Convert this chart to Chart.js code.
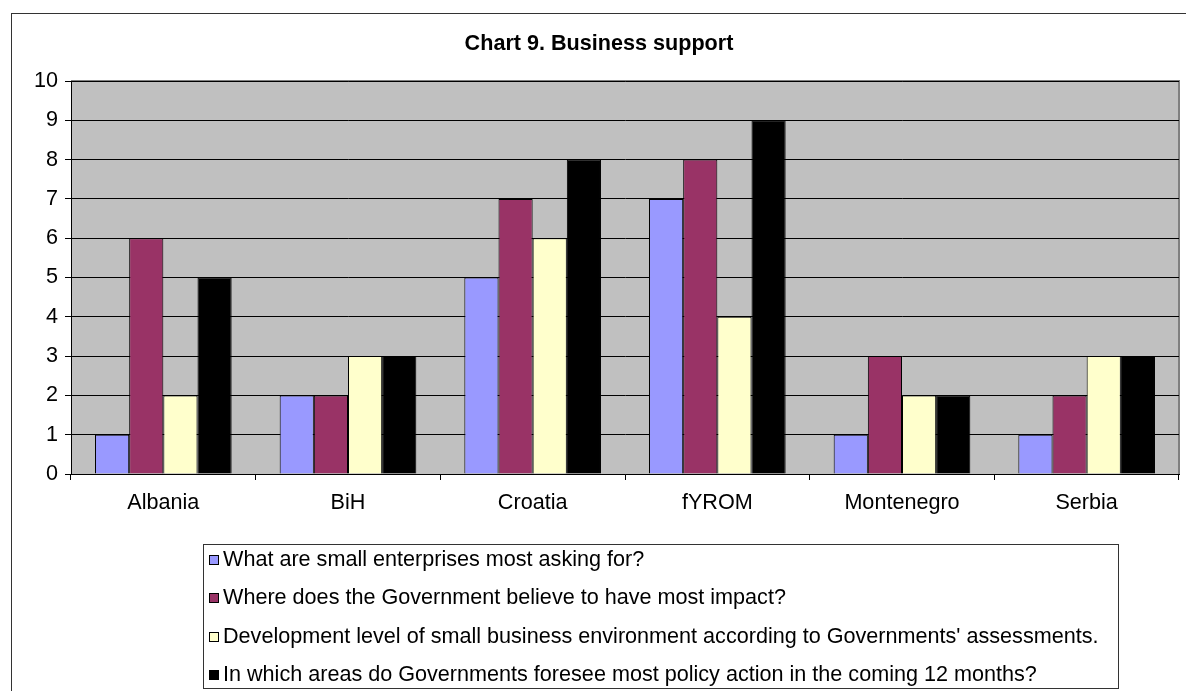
<!DOCTYPE html>
<html>
<head>
<meta charset="utf-8">
<script src="https://cdn.jsdelivr.net/npm/chart.js@4/dist/chart.umd.min.js"></script>
<style>
  html, body { margin: 0; padding: 0; background: #fff; }
  #wrap { width: 1186px; height: 691px; }
</style>
</head>
<body>
<div id="wrap"><canvas id="chart" width="1186" height="691"></canvas></div>
<script>
const countries = ["Albania", "BiH", "Croatia", "fYROM", "Montenegro", "Serbia"];
const askingFor = [1, 2, 5, 7, 1, 1];
const govImpact = [6, 2, 7, 8, 3, 2];
const devLevel = [2, 3, 6, 4, 2, 3];
const policyAction = [5, 3, 8, 9, 2, 3];
const seriesNames = [
  "What are small enterprises most asking for?",
  "Where does the Government believe to have most impact?",
  "Development level of small business environment according to Governments' assessments.",
  "In which areas do Governments foresee most policy action in the coming 12 months?"
];
const seriesColors = ["#9999FF", "#993366", "#FFFFCC", "#000000"];
const chartTitle = "Chart 9. Business support";

const FONT = "'Liberation Sans', Arial, sans-serif";
const FSIZE = 21.6;

// frame, plot background, title and boxed legend
const decor = {
  id: "decor",
  beforeDraw(chart) {
    const ctx = chart.ctx;
    const a = chart.chartArea;
    ctx.save();
    ctx.strokeStyle = "#333";
    ctx.lineWidth = 1;
    ctx.strokeRect(11.5, 13.5, 1200, 700);
    ctx.fillStyle = "#C0C0C0";
    ctx.fillRect(a.left, a.top, a.right - a.left, a.bottom - a.top);
    ctx.strokeStyle = "#808080";
    ctx.lineWidth = 2;
    ctx.beginPath();
    ctx.moveTo(a.left, a.top);
    ctx.lineTo(a.right, a.top);
    ctx.lineTo(a.right, a.bottom);
    ctx.stroke();
    ctx.restore();
  },
  afterDraw(chart) {
    const ctx = chart.ctx;
    ctx.save();
    ctx.fillStyle = "#000";
    ctx.font = "bold " + FSIZE + "px " + FONT;
    ctx.textAlign = "center";
    ctx.textBaseline = "middle";
    ctx.fillText(chartTitle, 599, 44);

    ctx.strokeStyle = "#333";
    ctx.lineWidth = 1;
    ctx.fillStyle = "#fff";
    ctx.fillRect(203.5, 544.5, 915, 144);
    ctx.strokeRect(203.5, 544.5, 915, 144);
    ctx.font = FSIZE + "px " + FONT;
    ctx.textAlign = "left";
    chart.data.datasets.forEach((ds, i) => {
      const y = 560 + i * 38.3;
      ctx.fillStyle = ds.backgroundColor;
      ctx.fillRect(209.5, Math.round(y) - 4.5, 9, 9);
      ctx.strokeStyle = "#000";
      ctx.strokeRect(209.5, Math.round(y) - 4.5, 9, 9);
      ctx.fillStyle = "#000";
      ctx.fillText(ds.label, 223, y);
    });
    ctx.restore();
  }
};

const seriesData = [askingFor, govImpact, devLevel, policyAction];

new Chart(document.getElementById("chart"), {
  type: "bar",
  data: {
    labels: countries,
    datasets: seriesData.map((d, i) => ({
      label: seriesNames[i],
      data: d,
      backgroundColor: seriesColors[i],
      borderColor: "#000",
      borderWidth: 1,
      barPercentage: 1.0,
      categoryPercentage: 0.74
    }))
  },
  options: {
    responsive: false,
    animation: false,
    events: [],
    layout: { padding: { left: 10, right: 7, top: 81, bottom: 177 } },
    plugins: {
      legend: { display: false },
      title: { display: false },
      tooltip: { enabled: false }
    },
    scales: {
      x: {
        grid: {
          drawOnChartArea: false,
          drawTicks: true,
          tickLength: 6,
          color: "#000"
        },
        border: { color: "#000", width: 1 },
        ticks: {
          color: "#000",
          font: { family: FONT, size: FSIZE },
          padding: 10
        },
        afterFit(scale) { scale.height = 40; }
      },
      y: {
        min: 0,
        max: 10,
        ticks: {
          stepSize: 1,
          color: "#000",
          font: { family: FONT, size: FSIZE },
          padding: 7
        },
        grid: {
          color: "#000",
          tickLength: 6,
          lineWidth: 1
        },
        border: { color: "#000", width: 1 },
        afterFit(scale) { scale.width = 61; }
      }
    }
  },
  plugins: [decor]
});
</script>
</body>
</html>
